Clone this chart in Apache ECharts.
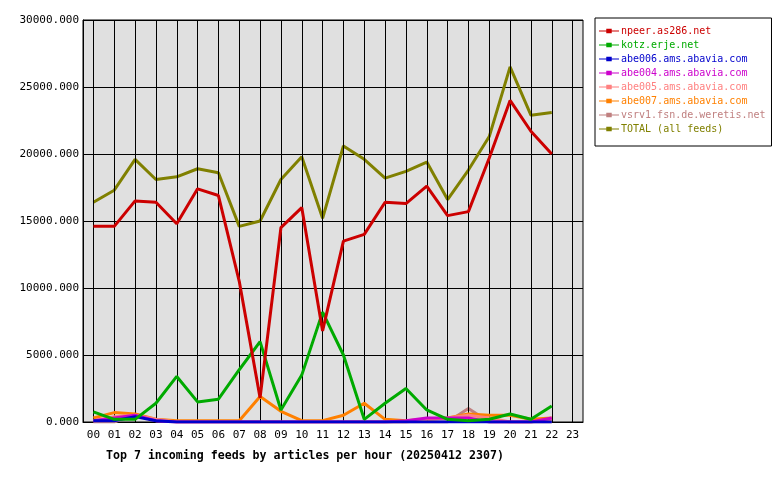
<!DOCTYPE html><html><head><meta charset="utf-8"><script src="https://cdn.jsdelivr.net/npm/echarts@6/dist/echarts.min.js"></script></head><body style="margin:0;background:#fff"><div id="c" style="width:780px;height:480px"></div><script>
const hours=['00','01','02','03','04','05','06','07','08','09','10','11','12','13','14','15','16','17','18','19','20','21','22','23'];
const names=['npeer.as286.net','kotz.erje.net','abe006.ams.abavia.com','abe004.ams.abavia.com','abe005.ams.abavia.com','abe007.ams.abavia.com','vsrv1.fsn.de.weretis.net','TOTAL (all feeds)'];
const colors=['#cc0000','#00aa00','#0000cc','#cc00cc','#ff8080','#ff8000','#c08080','#808000'];
const npeer=[14600,14600,16500,16400,14800,17400,16900,10500,1800,14500,16000,6800,13500,14000,16400,16300,17600,15400,15700,19700,24000,21700,20000];
const kotz=[750,200,200,1400,3400,1500,1700,3900,6000,900,3500,8200,5000,200,1400,2500,900,200,100,200,600,200,1200];
const abe006=[100,100,400,100,0,0,0,0,0,0,0,0,0,0,0,0,0,0,0,0,0,0,0];
const abe004=[100,300,500,100,0,0,0,0,0,0,0,0,0,0,0,100,300,300,300,0,0,0,300];
const abe005=[100,400,500,200,0,0,0,0,0,0,0,0,0,0,0,0,200,300,500,300,0,0,200];
const abe007=[300,700,600,200,100,100,100,100,1900,800,100,100,500,1400,200,100,200,300,600,500,500,200,300];
const vsrv1=[0,0,600,100,0,0,0,0,0,0,0,0,0,0,0,0,0,0,1000,0,0,0,0];
const total=[16400,17300,19600,18100,18300,18900,18600,14600,15000,18100,19800,15200,20600,19600,18200,18700,19400,16600,18800,21300,26500,22900,23100];
const yTicks=[0,5000,10000,15000,20000,25000,30000];
const data=[npeer,kotz,abe006,abe004,abe005,abe007,vsrv1,total];
const order=[7,0,1,2,3,4,5,6];
const F='DejaVu Sans Mono';
const rich=Object.fromEntries(names.map((n,i)=>['c'+i,{color:colors[i],fontFamily:F,fontSize:10}]));
const ch=echarts.init(document.getElementById('c'));
ch.setOption({
 animation:false,
 title:{text:'Top 7 incoming feeds by articles per hour (20250412 2307)',left:101,top:445,textStyle:{fontFamily:F,fontSize:11.6,fontWeight:'bold',color:'#000'}},
 grid:{left:83,right:197,top:20,bottom:58,show:true,backgroundColor:'#e0e0e0',borderColor:'#000',borderWidth:1},
 legend:{orient:'vertical',left:595,top:18,padding:[8,6,12,4],itemGap:4,itemWidth:20,itemHeight:11,
  borderColor:'#000',borderWidth:1,backgroundColor:'#fff',data:names,
  icon:'path://M0,4h8v-2h6v2h8v1h-8v2h-6v-2h-8z',
  formatter:n=>'{c'+names.indexOf(n)+'|'+n+'}',
  textStyle:{fontFamily:F,fontSize:10,padding:[0,0,0,-3],rich:rich}},
 xAxis:{type:'category',data:hours,boundaryGap:true,axisLine:{lineStyle:{color:'#000'}},axisTick:{show:false},
  axisLabel:{fontFamily:F,fontSize:11,color:'#000',margin:8,interval:0},
  splitLine:{show:false}},
 yAxis:{type:'value',min:0,max:30000,interval:5000,axisLine:{show:true,lineStyle:{color:'#000'}},axisTick:{show:false},
  axisLabel:{fontFamily:F,fontSize:11,color:'#000',formatter:v=>v.toFixed(3),margin:4},
  splitLine:{lineStyle:{color:'#000',width:1}}},
 series:order.map(i=>({name:names[i],type:'line',data:data[i],symbol:'none',z:i===7?1:10-i,
  lineStyle:{color:colors[i],width:3},itemStyle:{color:colors[i]},
  markLine:i===7?{silent:true,symbol:'none',label:{show:false},lineStyle:{color:'#000',width:1,type:'solid'},
   data:hours.map(h=>({xAxis:h}))}:undefined}))
});
</script></body></html>
